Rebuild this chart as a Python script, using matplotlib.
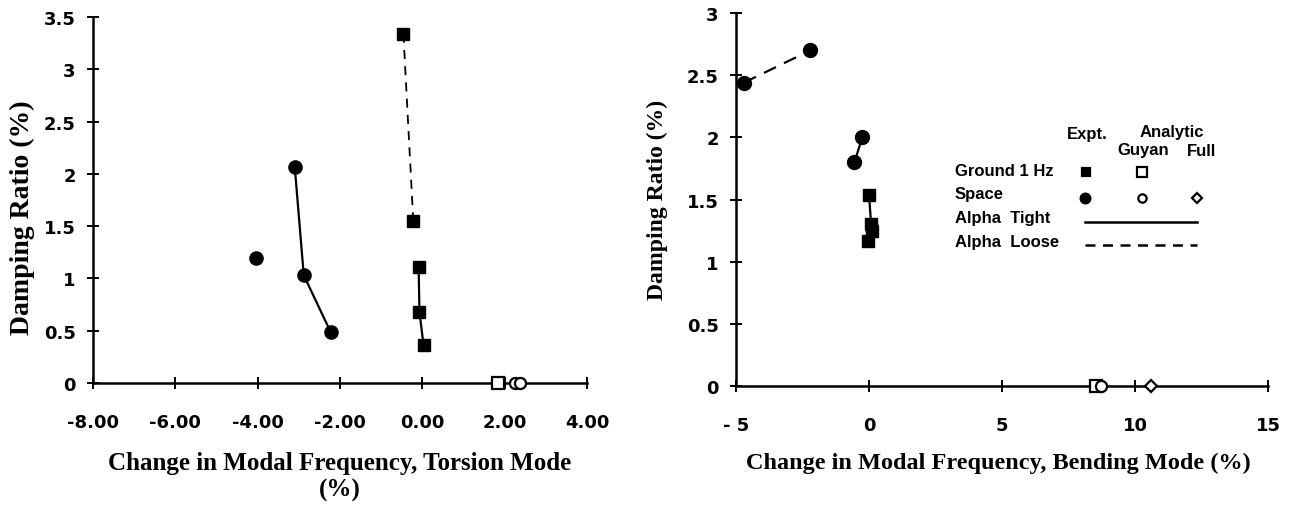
import matplotlib
matplotlib.use("Agg")
import matplotlib.pyplot as plt
from matplotlib.lines import Line2D

# ---------------- data ----------------
# Torsion mode (left panel): x = change in modal frequency (%), y = damping ratio (%)
tor_space_tight_x = [-3.10, -2.88, -2.23]
tor_space_tight_y = [2.07, 1.03, 0.49]
tor_space_single_x = [-4.03]
tor_space_single_y = [1.20]
tor_ground_loose_x = [-0.46, -0.22]
tor_ground_loose_y = [3.34, 1.55]
tor_ground_tight_x = [-0.09, -0.07, 0.03]
tor_ground_tight_y = [1.11, 0.68, 0.36]
tor_guyan_ground_x = [1.85]
tor_guyan_space_x = [2.25]
tor_full_space_x = [2.38]

# Bending mode (right panel)
ben_space_loose_x = [-4.70, -2.20]
ben_space_loose_y = [2.44, 2.70]
ben_space_tight_x = [-0.55, -0.25]
ben_space_tight_y = [1.80, 2.00]
ben_ground_tight_x = [0.00, 0.08, 0.12, -0.04]
ben_ground_tight_y = [1.54, 1.30, 1.25, 1.17]
ben_guyan_ground_x = [8.55]
ben_guyan_space_x = [8.72]
ben_full_space_x = [10.6]

tor_xticks = [-8, -6, -4, -2, 0, 2, 4]
tor_xticklabels = ["-8.00", "-6.00", "-4.00", "-2.00", "0.00", "2.00", "4.00"]
tor_yticks = [0, 0.5, 1, 1.5, 2, 2.5, 3, 3.5]
tor_yticklabels = ["0", "0.5", "1", "1.5", "2", "2.5", "3", "3.5"]
ben_xticks = [-5, 0, 5, 10, 15]
ben_xticklabels = ["- 5", "0", "5", "10", "15"]
ben_yticks = [0, 0.5, 1, 1.5, 2, 2.5, 3]
ben_yticklabels = ["0", "0.5", "1", "1.5", "2", "2.5", "3"]

# ---------------- figure ----------------
W, H = 1292, 506
fig = plt.figure(figsize=(W / 100, H / 100), dpi=100)
fig.patch.set_facecolor("white")


def px(x, y):
    return x / W, 1 - y / H


def box(x0, y0, x1, y1):
    return [x0 / W, 1 - y1 / H, (x1 - x0) / W, (y1 - y0) / H]


ax1 = fig.add_axes(box(93, 18, 587, 384))
ax2 = fig.add_axes(box(736, 14, 1268, 387))

tick_font = dict(family="DejaVu Sans", weight="bold", size=13)
label_font = dict(family="Liberation Serif", weight="bold")

MS = 8.5
LW = 1.6
DASH = (0, (5, 4))

for ax in (ax1, ax2):
    for s in ("top", "right"):
        ax.spines[s].set_visible(False)
    for s in ("left", "bottom"):
        ax.spines[s].set_linewidth(1.8)
    ax.tick_params(direction="inout", length=9, width=1.4)
    ax.tick_params(axis="x", pad=17)
    ax.tick_params(axis="y", pad=8)

# ---- left panel ----
ax1.plot(tor_space_tight_x, tor_space_tight_y, "-o", color="black", lw=LW,
         ms=MS + 1, clip_on=False)
ax1.plot(tor_space_single_x, tor_space_single_y, "o", color="black",
         ms=MS + 1, clip_on=False)
ax1.plot(tor_ground_loose_x, tor_ground_loose_y, "s", color="black", ls=DASH,
         lw=1.3, ms=MS, clip_on=False)
ax1.plot(tor_ground_tight_x, tor_ground_tight_y, "-s", color="black", lw=LW,
         ms=MS, clip_on=False)
ax1.plot(tor_guyan_ground_x, [0] * len(tor_guyan_ground_x), "s", mfc="white",
         mec="black", mew=1.6, ms=8, clip_on=False, zorder=5)
ax1.plot(tor_guyan_space_x, [0] * len(tor_guyan_space_x), "o", mfc="white",
         mec="black", mew=1.6, ms=8, clip_on=False, zorder=5)
ax1.plot(tor_full_space_x, [0] * len(tor_full_space_x), "o", mfc="white",
         mec="black", mew=1.6, ms=8, clip_on=False, zorder=5)

ax1.set_xlim(-8, 4)
ax1.set_ylim(0, 3.5)
ax1.set_xticks(tor_xticks)
ax1.set_xticklabels(tor_xticklabels, **tick_font)
ax1.set_yticks(tor_yticks)
ax1.set_yticklabels(tor_yticklabels, **tick_font)

fig.text(*px(340, 477), "Change in Modal Frequency, Torsion Mode\n(%)",
         ha="center", va="center", fontsize=18, linespacing=1.2, **label_font)
fig.text(*px(22, 218), "Damping Ratio (%)", rotation=90, ha="center",
         va="center", fontsize=20, **label_font)

# ---- right panel ----
ax2.plot(ben_space_loose_x, ben_space_loose_y, "o", color="black", ls=(0, (6, 4)),
         lw=1.6, ms=MS + 1.5, clip_on=False)
ax2.plot(ben_space_tight_x, ben_space_tight_y, "-o", color="black", lw=LW,
         ms=MS + 1.5, clip_on=False)
ax2.plot(ben_ground_tight_x, ben_ground_tight_y, "-s", color="black", lw=LW,
         ms=MS, clip_on=False)
ax2.plot(ben_guyan_ground_x, [0] * len(ben_guyan_ground_x), "s", mfc="white",
         mec="black", mew=1.6, ms=8, clip_on=False, zorder=5)
ax2.plot(ben_guyan_space_x, [0] * len(ben_guyan_space_x), "o", mfc="white",
         mec="black", mew=1.6, ms=8, clip_on=False, zorder=5)
ax2.plot(ben_full_space_x, [0] * len(ben_full_space_x), "D", mfc="white",
         mec="black", mew=1.6, ms=6, clip_on=False, zorder=5)

ax2.set_xlim(-5, 15)
ax2.set_ylim(0, 3)
ax2.set_xticks(ben_xticks)
ax2.set_xticklabels(ben_xticklabels, **tick_font)
ax2.set_yticks(ben_yticks)
ax2.set_yticklabels(ben_yticklabels, **tick_font)

fig.text(*px(998, 463), "Change in Modal Frequency, Bending Mode (%)",
         ha="center", va="center", fontsize=17.5, **label_font)
fig.text(*px(657, 200), "Damping Ratio (%)", rotation=90, ha="center",
         va="center", fontsize=17, **label_font)

# ---- legend (drawn manually, as in the original) ----
leg_font = dict(family="Liberation Sans", weight="bold", size=12)
fig.text(*px(1087, 135), "Expt.", ha="center", va="center", **leg_font)
fig.text(*px(1172, 133), "Analytic", ha="center", va="center", **leg_font)
fig.text(*px(1143, 151), "Guyan", ha="center", va="center", **leg_font)
fig.text(*px(1202, 151), "Full", ha="center", va="center", **leg_font)
fig.text(*px(955, 172), "Ground 1 Hz", ha="left", va="center", **leg_font)
fig.text(*px(955, 195), "Space", ha="left", va="center", **leg_font)
fig.text(*px(955, 219), "Alpha  Tight", ha="left", va="center", **leg_font)
fig.text(*px(955, 243), "Alpha  Loose", ha="left", va="center", **leg_font)


def fig_marker(x, y, marker, filled, size):
    fx, fy = px(x, y)
    fig.add_artist(Line2D([fx], [fy], marker=marker, ls="none",
                          mfc="black" if filled else "white", mec="black",
                          mew=1.6, ms=size, transform=fig.transFigure))


fig_marker(1086, 173, "s", True, 6)
fig_marker(1142, 173, "s", False, 6.5)
fig_marker(1085, 199, "o", True, 7)
fig_marker(1142, 199, "o", False, 6)
fig_marker(1197, 199, "D", False, 5)

x0, y0 = px(1085, 223)
x1, _ = px(1197, 223)
fig.add_artist(Line2D([x0, x1], [y0, y0], color="black", lw=1.8,
                      transform=fig.transFigure))
x0, y0 = px(1085, 246)
fig.add_artist(Line2D([x0, x1], [y0, y0], color="black", lw=1.8, ls=(0, (4, 3)),
                      transform=fig.transFigure))

fig.savefig("out.png", dpi=100, facecolor="white")
